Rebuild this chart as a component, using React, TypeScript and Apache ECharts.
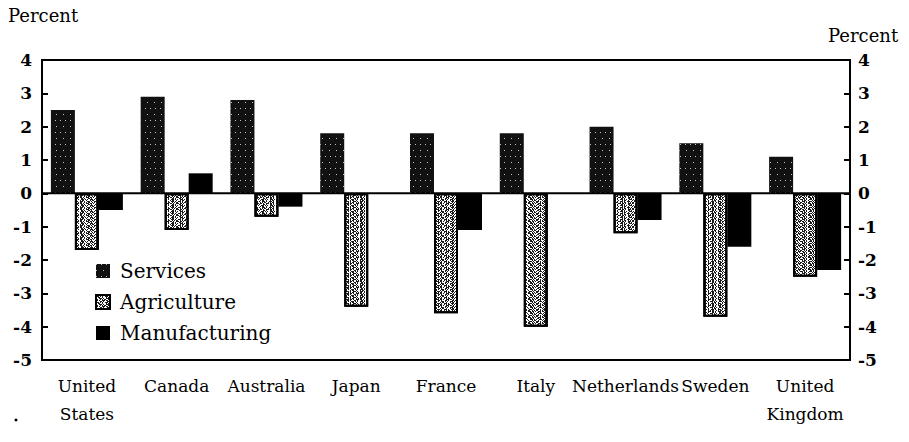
import React, { useEffect, useRef } from "react";
import * as echarts from "echarts";

const categories = [
  "United\nStates",
  "Canada",
  "Australia",
  "Japan",
  "France",
  "Italy",
  "Netherlands",
  "Sweden",
  "United\nKingdom",
];
const services = [2.5, 2.9, 2.8, 1.8, 1.8, 1.8, 2.0, 1.5, 1.1];
const agriculture = [-1.7, -1.1, -0.7, -3.4, -3.6, -4.0, -1.2, -3.7, -2.5];
const manufacturing = [-0.5, 0.6, -0.4, 0, -1.1, 0, -0.8, -1.6, -2.3];
const yMin = -5;
const yMax = 4;

const FONT = "DejaVu Serif";
const GRID_LEFT = 42;
const GRID_RIGHT = 59;
const CHART_W = 909;

export default function App() {
  const ref = useRef<HTMLDivElement>(null);
  useEffect(() => {
    if (!ref.current) return;
    const chart = echarts.init(ref.current, undefined, { renderer: "svg" });
    const axisLabel = { color: "#000", fontFamily: FONT, fontSize: 17 };
    chart.setOption({
      animation: false,
      backgroundColor: "#fff",
      grid: {
        left: GRID_LEFT,
        right: GRID_RIGHT,
        top: 60,
        height: 300,
        show: true,
        borderColor: "#000",
        borderWidth: 2,
        backgroundColor: "transparent",
      },
      legend: {
        orient: "vertical",
        left: 90,
        top: 256,
        itemWidth: 14,
        itemHeight: 14,
        itemGap: 11,
        icon: "rect",
        textStyle: { fontFamily: FONT, fontSize: 20, color: "#000", padding: [0, 0, 0, 5] },
        data: ["Services", "Agriculture", "Manufacturing"],
      },
      xAxis: {
        type: "category",
        data: categories,
        position: "bottom",
        axisLine: { onZero: false, lineStyle: { color: "#000", width: 2 } },
        axisTick: { alignWithLabel: true, inside: true, length: 6, lineStyle: { color: "#000", width: 2 } },
        axisLabel: { ...axisLabel, margin: 12, lineHeight: 28, interval: 0 },
        splitLine: { show: false },
      },
      yAxis: [
        {
          type: "value",
          min: yMin,
          max: yMax,
          interval: 1,
          position: "left",
          axisLine: { show: true, lineStyle: { color: "#000", width: 2 } },
          axisTick: { show: true, inside: true, length: 6, lineStyle: { color: "#000", width: 2 } },
          axisLabel: { ...axisLabel, fontWeight: "bold", margin: 10 },
          splitLine: { show: false },
        },
        {
          type: "value",
          min: yMin,
          max: yMax,
          interval: 1,
          position: "right",
          axisLine: { show: true, lineStyle: { color: "#000", width: 2 } },
          axisTick: { show: true, inside: true, length: 6, lineStyle: { color: "#000", width: 2 } },
          axisLabel: { ...axisLabel, fontWeight: "bold", margin: 8 },
          splitLine: { show: false },
        },
      ],
      series: [
        {
          name: "Services",
          type: "bar",
          data: services,
          barWidth: 24,
          barGap: "0%",
          itemStyle: {
            color: "#111",
            decal: {
              symbol: "rect",
              symbolSize: 1,
              color: "rgba(255,255,255,0.75)",
              dashArrayX: [[1, 6], [1, 4]],
              dashArrayY: [1, 5],
              rotation: 0,
            },
          },
        },
        {
          name: "Agriculture",
          type: "bar",
          data: agriculture,
          barWidth: 24,
          barGap: "0%",
          itemStyle: {
            color: "#fff",
            borderColor: "#000",
            borderWidth: 2,
            decal: {
              symbol: "rect",
              symbolSize: 1,
              color: "#1a1a1a",
              dashArrayX: [
                [2, 1, 1, 2, 3, 1],
                [1, 3, 2, 1],
                [3, 1, 1, 1, 1, 2],
                [1, 1, 2, 2, 1, 3],
                [1, 2, 3, 1],
                [2, 2, 1, 1, 1, 1],
              ],
              dashArrayY: [1, 0],
              rotation: 0,
            },
          },
        },
        {
          name: "Manufacturing",
          type: "bar",
          data: manufacturing,
          barWidth: 24,
          barGap: "0%",
          itemStyle: { color: "#000" },
        },
      ],
      graphic: [
        {
          type: "text",
          left: 8,
          top: 6,
          style: { text: "Percent", fontFamily: FONT, fontSize: 18, fill: "#000" },
        },
        {
          type: "text",
          left: 828,
          top: 26,
          style: { text: "Percent", fontFamily: FONT, fontSize: 18, fill: "#000" },
        },
        {
          type: "circle",
          shape: { cx: 16, cy: 420, r: 1.5 },
          style: { fill: "#000" },
        },
      ],
    });
    // zero line, placed through the value axis' own scale
    const y0 = chart.convertToPixel({ yAxisIndex: 0 }, 0) as number;
    chart.setOption({
      graphic: [
        {
          id: "zeroLine",
          type: "line",
          z: 100,
          shape: { x1: GRID_LEFT, y1: y0, x2: CHART_W - GRID_RIGHT, y2: y0 },
          style: { stroke: "#000", lineWidth: 2 },
        },
      ],
    });
    return () => chart.dispose();
  }, []);
  return <div ref={ref} style={{ width: 909, height: 442, position: "absolute", left: 0, top: 0 }} />;
}
